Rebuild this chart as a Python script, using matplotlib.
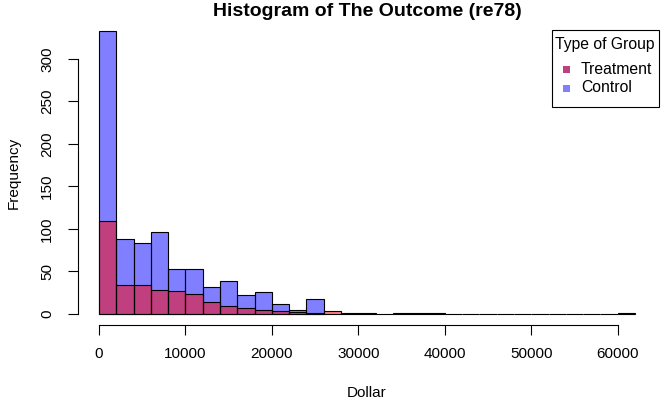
import matplotlib
matplotlib.use('Agg')
import matplotlib.pyplot as plt
from matplotlib.patches import Rectangle
import numpy as np

plt.rcParams['font.family'] = ['Liberation Sans', 'DejaVu Sans']

bin_width = 2000
control_counts = [333, 88, 83, 96, 53, 53, 32, 39, 22, 26, 12, 5, 18]
treatment_counts = [109, 34, 34, 28, 27, 23, 14, 9, 7, 5, 4, 2, 1, 3, 1, 1, 0,
                    1, 1, 1, 0, 0, 0, 0, 0, 0, 0, 0, 0, 0, 1]
x_ticks = [0, 10000, 20000, 30000, 40000, 50000, 60000]
y_ticks = [0, 50, 100, 150, 200, 250, 300]
group_labels = ['Treatment', 'Control']
legend_colors = ['#BF4080', '#8080FF']

control_col = (0, 0, 1, 0.5)
treat_col = (1, 0, 0, 0.5)

fig = plt.figure(figsize=(6.65, 4.04), dpi=100)
W, H = 665, 404
l, r, t, b = 77.5, 656.4, 19.6, 325.3
ax = fig.add_axes([l / W, 1 - b / H, (r - l) / W, (b - t) / H])

c_left = np.arange(len(control_counts)) * bin_width
t_left = np.arange(len(treatment_counts)) * bin_width
ax.bar(c_left, control_counts, width=bin_width, align='edge', color=control_col,
       edgecolor='black', linewidth=0.8)
ax.bar(t_left, treatment_counts, width=bin_width, align='edge', color=treat_col,
       edgecolor='black', linewidth=0.8)

xmax = len(treatment_counts) * bin_width
ymax = max(control_counts)
ax.set_xlim(-0.04 * xmax, 1.04 * xmax)
ax.set_ylim(-0.04 * ymax, 1.04 * ymax)

ax.set_xticks(x_ticks)
ax.set_xticklabels([str(v) for v in x_ticks])
ax.set_yticks(y_ticks)
ax.set_yticklabels([str(v) for v in y_ticks], rotation=90, va='center')
ax.tick_params(axis='both', length=7.2, width=0.8, labelsize=11, color='black')
ax.tick_params(axis='x', pad=8.5)
ax.tick_params(axis='y', pad=9.5)
for s in ['top', 'right']:
    ax.spines[s].set_visible(False)
ax.spines['left'].set_bounds(y_ticks[0], y_ticks[-1])
ax.spines['bottom'].set_bounds(x_ticks[0], x_ticks[-1])
ax.spines['left'].set_linewidth(0.8)
ax.spines['bottom'].set_linewidth(0.8)

def fx(px):
    return px / W

def fy(py):
    return 1 - py / H

fig.text(fx((l + r) / 2), fy(12), 'Histogram of The Outcome (re78)', ha='center',
         va='center', fontsize=14, fontweight='bold')
fig.text(fx(14), fy((t + b) / 2), 'Frequency', rotation=90, ha='center', va='center',
         fontsize=11)
fig.text(fx((l + r) / 2), fy(393), 'Dollar', ha='center', va='center', fontsize=11)

# legend (drawn in figure pixel coordinates)
fig.patches.append(Rectangle((fx(552), fy(107)), fx(659) - fx(552), fy(30) - fy(107),
                             transform=fig.transFigure, facecolor='white',
                             edgecolor='black', linewidth=0.8, zorder=5))
fig.text(fx(605), fy(45), 'Type of Group', ha='center', va='center', fontsize=11.3,
         zorder=6)
for i, (lab, col) in enumerate(zip(group_labels, legend_colors)):
    yc = 69 + i * 19
    fig.patches.append(Rectangle((fx(563), fy(yc + 3.5)), fx(7), fy(0) - fy(7),
                                 transform=fig.transFigure, facecolor=col,
                                 edgecolor='none', zorder=6))
    fig.text(fx(581), fy(yc), lab, ha='left', va='center', fontsize=11.3, zorder=6)

fig.savefig('out.png', dpi=100)
